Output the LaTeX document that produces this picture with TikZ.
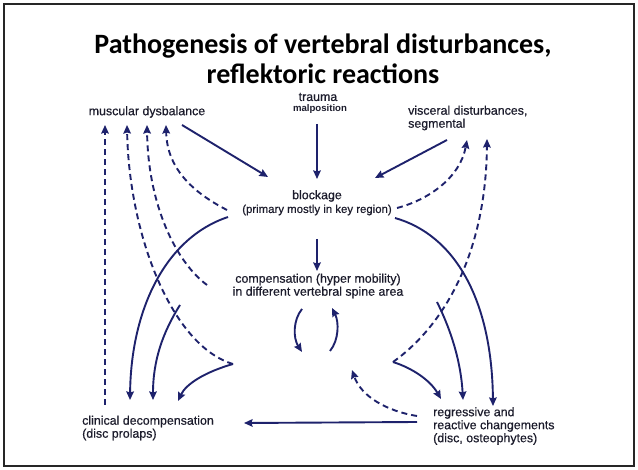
\documentclass[tikz,border=0pt]{standalone}
\usepackage{fontspec}
\setmainfont{Liberation Sans}[BoldFont={Liberation Sans}, BoldFeatures={FakeBold=0.5}]
\newfontfamily\titlefont{Carlito}
\newfontfamily\boldlbl{Liberation Sans Bold}
\usetikzlibrary{arrows.meta}
\definecolor{navy}{RGB}{30,34,108}
\definecolor{txt}{RGB}{28,28,44}
\tikzset{
  lbl/.style={inner sep=0pt, text=txt, font=\bfseries\fontsize{12.4}{13}\selectfont},
  conn/.style={draw=navy, line width=1.9pt, -{Stealth[length=8.5pt,width=7.5pt,inset=1pt]}},
  dconn/.style={conn, dash pattern=on 6pt off 4pt},
  plain/.style={draw=navy, line width=1.9pt}
}
\begin{document}
\begin{tikzpicture}[x=1pt,y=-1pt]
\useasboundingbox (0,0) rectangle (638,470);
\fill[white] (0,0) rectangle (638,470);
\draw[line width=2.6pt, black!85] (4,4) rectangle (634,466);

% title
\node[inner sep=0pt, align=center, font=\titlefont\bfseries\fontsize{28}{30}\selectfont, text=black] (title) at (323,59) {Pathogenesis of vertebral disturbances,\\reflektoric reactions};

% nodes
\node[lbl] (musc) at (147,112) {muscular dysbalance};
\node[lbl] (trauma) at (318,97) {trauma};
\node[inner sep=0pt, text=txt, font=\boldlbl\fontsize{9.6}{11}\selectfont] (malpos) at (320,109) {malposition};
\node[lbl, anchor=west, align=left] (visc) at (408,118) {visceral disturbances,\\segmental};
\node[lbl] (block) at (317,196) {blockage};
\node[inner sep=0pt, text=txt, font=\bfseries\fontsize{11.4}{13}\selectfont] (primary) at (317,210) {(primary mostly in key region)};
\node[lbl, align=center] (comp) at (318,286) {compensation (hyper mobility)\\in different vertebral spine area};
\node[lbl, anchor=west, align=left] (clin) at (82,428) {clinical decompensation\\(disc prolaps)};
\node[lbl, anchor=west, align=left] (regr) at (433,426) {regressive and\\reactive changements\\(disc, osteophytes)};

% connector end points
\coordinate (m1) at (105,125);
\coordinate (m2) at (127,125);
\coordinate (m3) at (147,125);
\coordinate (m4) at (166,125);
\coordinate (v1) at (467,140);
\coordinate (v2) at (487,139);
\coordinate (bl) at (227,210);
\coordinate (bls) at (228,217);
\coordinate (br) at (397,208);
\coordinate (brs) at (395,218);
\coordinate (cl) at (207,285);
\coordinate (lt) at (233,364);
\coordinate (rt) at (393,362);
\coordinate (c1) at (130,400);
\coordinate (c2) at (153,400);
\coordinate (c3) at (178,401);
\coordinate (r1) at (441,399);
\coordinate (r2) at (463,400);
\coordinate (r3) at (493,406);
\coordinate (ls) at (180,305);
\coordinate (rs) at (437,302);
\coordinate (cbl) at (105,405);

% solid arrows into blockage
\draw[conn] (182,125) -- (268,177);
\draw[conn] (447,140) -- (375,178);
\draw[conn] (317,124) -- (317,179);
\draw[conn] (317,239) -- (317,271);

% dashed from blockage
\draw[dconn] (bl) .. controls (192,192) and (167,168) .. (m4);
\draw[dconn] (br) .. controls (428,200) and (460,178) .. (v1);

% solid from blockage to bottom
\draw[conn] (bls) .. controls (165,238) and (131,310) .. (c1);
\draw[conn] (brs) .. controls (455,235) and (492,300) .. (r3);

% left side
\draw[dconn] (cbl) -- (m1);
\draw[dconn] (lt) .. controls (172,346) and (129,235) .. (m2);
\draw[dconn] (cl) .. controls (176,262) and (148,205) .. (m3);
\draw[conn] (ls) .. controls (163,332) and (153,360) .. (c2);
\draw[conn] (lt) .. controls (205,372) and (186,384) .. (c3);

% right side
\draw[dconn] (rt) .. controls (445,325) and (486,252) .. (v2);
\draw[conn] (rt) .. controls (412,368) and (430,380) .. (r1);
\draw[conn] (rs) .. controls (451,330) and (461,362) .. (r2);
\draw[dconn] (417,416) .. controls (386,411) and (361,396) .. (352,370);

% bottom
\draw[conn] (417,422) -- (244,423);

% compensation loop
\draw[conn] (302,309) .. controls (293,320) and (293,338) .. (302,352);
\draw[conn] (330,351) .. controls (339,340) and (339,322) .. (332,308);
\end{tikzpicture}
\end{document}
